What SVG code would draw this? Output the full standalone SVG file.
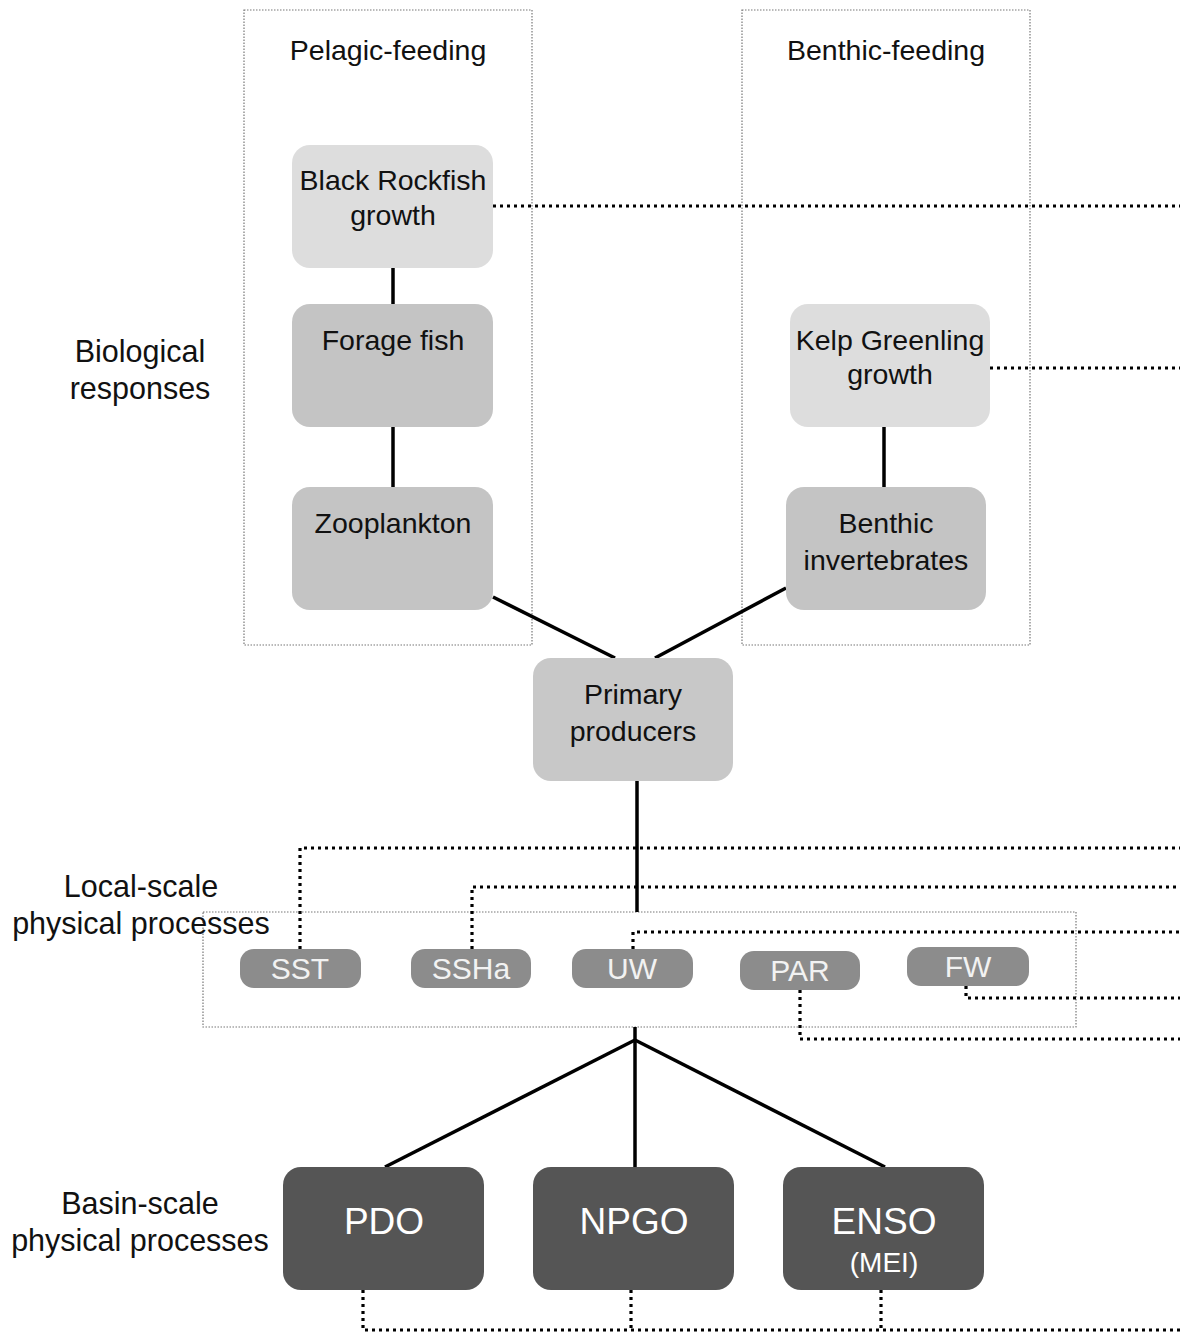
<svg xmlns="http://www.w3.org/2000/svg" width="1180" height="1333" viewBox="0 0 1180 1333">
<style>
text{font-family:"Liberation Sans",Arial,sans-serif;text-anchor:middle;fill:#111}
.lbl{font-size:28.5px}
.side{font-size:30.5px}
.pill text{font-size:30px;fill:#f2f2f2}
.pill rect{fill:#8c8c8c}
.dark rect{fill:#555555}
.dark text{fill:#ffffff;font-size:37px}
.light rect{fill:#dddddd}
.mid rect{fill:#c4c4c4}
.grp{fill:none;stroke:#777;stroke-width:1.2;stroke-dasharray:1.5 1.5}
.solid{stroke:#000;stroke-width:3.5;fill:none}
.dot{stroke:#000;stroke-width:3.2;fill:none;stroke-dasharray:3 4}
</style>
<rect width="1180" height="1333" fill="#fff"/>
<g id="groups">
<rect class="grp" x="244" y="10" width="288" height="635"/>
<rect class="grp" x="742" y="10" width="288" height="635"/>
<rect class="grp" x="203" y="912" width="873" height="115"/>
</g>
<g id="labels">
<text class="lbl" x="388" y="60">Pelagic-feeding</text>
<text class="lbl" x="886" y="60">Benthic-feeding</text>
<text class="side" x="140" y="362">Biological</text>
<text class="side" x="140" y="399">responses</text>
<text class="side" x="141" y="897">Local-scale</text>
<text class="side" x="141" y="934">physical processes</text>
<text class="side" x="140" y="1214">Basin-scale</text>
<text class="side" x="140" y="1251">physical processes</text>
</g>
<g id="connectors">
<line class="solid" x1="393" y1="268" x2="393" y2="304"/>
<line class="solid" x1="393" y1="427" x2="393" y2="487"/>
<line class="solid" x1="884" y1="427" x2="884" y2="487"/>
<line class="solid" x1="493" y1="597" x2="615" y2="658"/>
<line class="solid" x1="786" y1="588" x2="655" y2="658"/>
<line class="solid" x1="637" y1="781" x2="637" y2="912"/>
<line class="solid" x1="635" y1="1027" x2="635" y2="1167"/>
<line class="solid" x1="635" y1="1040" x2="385" y2="1167"/>
<line class="solid" x1="635" y1="1040" x2="885" y2="1167"/>
<polyline class="dot" points="493,206 1180,206"/>
<polyline class="dot" points="990,368 1180,368"/>
<polyline class="dot" points="300,949 300,848 1180,848"/>
<polyline class="dot" points="472,949 472,887 1180,887"/>
<polyline class="dot" points="633,949 633,932 1180,932"/>
<polyline class="dot" points="966,986 966,998 1180,998"/>
<polyline class="dot" points="800,990 800,1039 1180,1039"/>
<polyline class="dot" points="363,1290 363,1330 1180,1330"/>
<polyline class="dot" points="631,1290 631,1330"/>
<polyline class="dot" points="881,1290 881,1330"/>
</g>
<g id="black-rockfish" class="light">
<rect x="292" y="145" width="201" height="123" rx="18"/>
<text class="lbl" x="393" y="190">Black Rockfish</text>
<text class="lbl" x="393" y="225">growth</text>
</g>
<g id="forage-fish" class="mid">
<rect x="292" y="304" width="201" height="123" rx="18"/>
<text class="lbl" x="393" y="350">Forage fish</text>
</g>
<g id="zooplankton" class="mid">
<rect x="292" y="487" width="201" height="123" rx="18"/>
<text class="lbl" x="393" y="533">Zooplankton</text>
</g>
<g id="kelp-greenling" class="light">
<rect x="790" y="304" width="200" height="123" rx="18"/>
<text class="lbl" x="890" y="350">Kelp Greenling</text>
<text class="lbl" x="890" y="384">growth</text>
</g>
<g id="benthic-invertebrates" class="mid">
<rect x="786" y="487" width="200" height="123" rx="18"/>
<text class="lbl" x="886" y="533">Benthic</text>
<text class="lbl" x="886" y="570">invertebrates</text>
</g>
<g id="primary-producers">
<rect x="533" y="658" width="200" height="123" rx="18" fill="#c8c8c8"/>
<text class="lbl" x="633" y="704">Primary</text>
<text class="lbl" x="633" y="741">producers</text>
</g>
<g id="sst" class="pill">
<rect x="240" y="949" width="121" height="39" rx="14"/>
<text x="300" y="979">SST</text>
</g>
<g id="ssha" class="pill">
<rect x="411" y="949" width="120" height="39" rx="14"/>
<text x="471" y="979">SSHa</text>
</g>
<g id="uw" class="pill">
<rect x="572" y="949" width="121" height="39" rx="14"/>
<text x="632" y="979">UW</text>
</g>
<g id="par" class="pill">
<rect x="740" y="951" width="120" height="39" rx="14"/>
<text x="800" y="981">PAR</text>
</g>
<g id="fw" class="pill">
<rect x="907" y="947" width="122" height="39" rx="14"/>
<text x="968" y="977">FW</text>
</g>
<g id="pdo" class="dark">
<rect x="283" y="1167" width="201" height="123" rx="18"/>
<text x="384" y="1234">PDO</text>
</g>
<g id="npgo" class="dark">
<rect x="533" y="1167" width="201" height="123" rx="18"/>
<text x="634" y="1234">NPGO</text>
</g>
<g id="enso" class="dark">
<rect x="783" y="1167" width="201" height="123" rx="18"/>
<text x="884" y="1234">ENSO</text>
<text x="884" y="1272" style="font-size:28px">(MEI)</text>
</g>
</svg>
